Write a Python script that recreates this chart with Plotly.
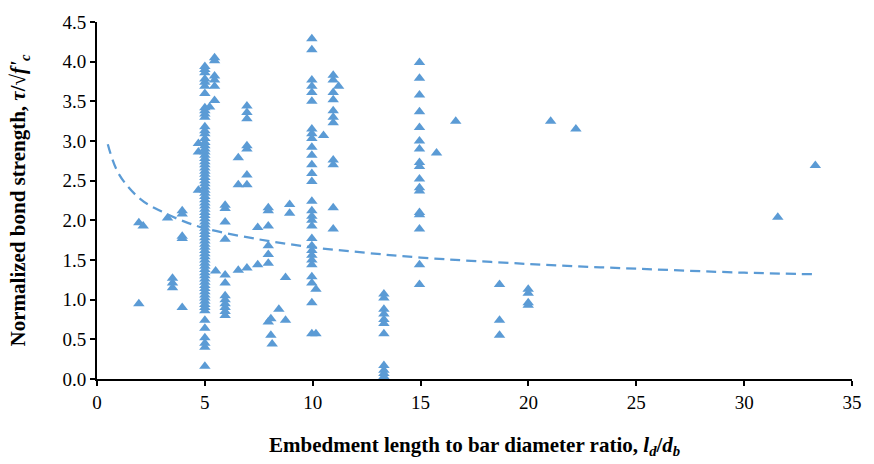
import plotly.graph_objects as go

# ---- data ----
x_vals = [
    1.94, 2.14, 1.94,
    3.27, 3.95, 3.95, 3.95, 3.95, 3.5, 3.5, 3.5, 3.95,
    4.7, 4.7, 4.7,
    # x = 5 column (top part)
    5, 5, 5, 5, 5, 5, 5, 5, 5, 5, 5, 5, 5, 5, 5,
    # x = 5 column (dense part)
    5, 5, 5, 5, 5, 5, 5, 5, 5, 5, 5, 5, 5, 5, 5, 5, 5, 5, 5, 5,
    5, 5, 5, 5, 5, 5, 5, 5, 5, 5, 5, 5, 5, 5, 5, 5, 5, 5, 5, 5,
    5, 5, 5, 5, 5, 5, 5, 5, 5, 5, 5, 5, 5, 5,
    # x = 5 column (low part)
    5, 5, 5, 5, 5, 5,
    5.45, 5.45, 5.45, 5.45, 5.45, 5.45, 5.22, 5.5,
    5.94, 5.94, 5.94, 5.94, 5.94, 5.94, 5.94, 5.94, 5.94, 5.94, 5.94, 5.94,
    6.55, 6.55, 6.55,
    6.95, 6.95, 6.95, 6.95, 6.95, 6.95, 6.95, 6.95,
    7.45, 7.45,
    7.94, 7.94, 7.94, 7.94, 7.94, 7.94, 7.94,
    8.06, 8.06, 8.12, 8.43, 8.74, 8.74, 8.93, 8.93,
    # x = 10 column
    9.96, 9.96, 9.96, 9.96, 9.96, 9.96, 9.96, 9.96, 9.96, 9.96,
    9.96, 9.96, 9.96, 9.96, 9.96, 9.96, 9.96, 9.96, 9.96, 9.96,
    9.96, 9.96, 9.96, 9.96, 9.96, 9.96, 9.96, 9.96, 9.96,
    10.15, 10.15, 10.5,
    10.95, 10.95, 10.95, 10.95, 10.95, 10.95, 10.95, 10.95, 10.95, 10.95, 10.95, 11.2,
    13.3, 13.3, 13.3, 13.3, 13.3, 13.3, 13.3, 13.3, 13.3, 13.3, 13.3,
    14.95, 14.95, 14.95, 14.95, 14.95, 14.95, 14.95, 14.95, 14.95,
    14.95, 14.95, 14.95, 14.95, 14.95, 14.95, 14.95, 14.95,
    15.74, 16.63, 18.66, 18.66, 18.66, 19.99, 19.99, 19.99, 19.99,
    21.03, 22.2, 31.56, 33.3,
]
y_vals = [
    1.97, 1.93, 0.95,
    2.03, 2.12, 2.08, 1.80, 1.77, 1.27, 1.21, 1.15, 0.90,
    2.97, 2.86, 2.38,
    3.94, 3.90, 3.86, 3.78, 3.74, 3.69, 3.60, 3.42, 3.38, 3.34, 3.30, 3.18, 3.13, 3.09, 3.03,
    2.98, 2.94, 2.90, 2.86, 2.82, 2.78, 2.74, 2.70, 2.66, 2.62, 2.58, 2.54, 2.50, 2.46, 2.42, 2.38, 2.34, 2.30, 2.26, 2.22,
    2.18, 2.14, 2.10, 2.06, 2.02, 1.98, 1.94, 1.90, 1.86, 1.82, 1.78, 1.74, 1.70, 1.66, 1.62, 1.58, 1.54, 1.50, 1.46, 1.42,
    1.38, 1.34, 1.30, 1.26, 1.22, 1.18, 1.14, 1.10, 1.06, 1.02, 0.98, 0.94, 0.90, 0.86,
    0.74, 0.64, 0.52, 0.45, 0.40, 0.16,
    4.05, 4.01, 3.82, 3.77, 3.69, 3.51, 3.43, 1.36,
    2.19, 2.15, 1.98, 1.76, 1.31, 1.21, 1.05, 1.00, 0.95, 0.90, 0.85, 0.80,
    2.79, 2.45, 1.37,
    3.44, 3.36, 3.28, 2.94, 2.90, 2.57, 2.45, 1.40,
    1.91, 1.44,
    2.16, 2.12, 1.93, 1.68, 1.57, 1.46, 0.72,
    0.76, 0.55, 0.44, 0.88, 1.28, 0.74, 2.20, 2.09,
    4.29, 4.15, 3.77, 3.69, 3.61, 3.50, 3.15, 3.09, 3.03, 2.92,
    2.82, 2.70, 2.59, 2.49, 2.24, 2.12, 2.05, 2.00, 1.93, 1.77,
    1.68, 1.62, 1.56, 1.50, 1.44, 1.29, 1.21, 0.96, 0.57,
    1.13, 0.57, 3.07,
    3.83, 3.77, 3.61, 3.52, 3.38, 3.30, 3.23, 2.76, 2.70, 2.16, 1.89, 3.69,
    1.07, 1.02, 0.88, 0.82, 0.75, 0.70, 0.57, 0.17, 0.11, 0.07, 0.03,
    3.99, 3.79, 3.58, 3.37, 3.17, 3.00, 2.90, 2.73, 2.68,
    2.52, 2.41, 2.37, 2.10, 2.07, 1.89, 1.44, 1.19,
    2.85, 3.25, 1.19, 0.74, 0.55, 1.13, 1.08, 0.96, 0.93,
    3.25, 3.15, 2.04, 2.69,
]

# trend line
trend_x = [0.5, 1, 2, 3, 4, 5, 7.5, 10, 12.5, 15, 20, 25, 30, 33.3]
trend_y = [2.96, 2.59, 2.27, 2.11, 1.99, 1.90, 1.76, 1.66, 1.59, 1.53, 1.45, 1.39, 1.34, 1.32]

x_ticks = [0, 5, 10, 15, 20, 25, 30, 35]
y_ticks = [0, 0.5, 1.0, 1.5, 2.0, 2.5, 3.0, 3.5, 4.0, 4.5]

BLUE = "#5B9BD5"
FONT = "Liberation Serif"

fig = go.Figure()
fig.add_trace(go.Scatter(
    x=x_vals, y=y_vals, mode="markers",
    marker=dict(symbol="triangle-up", size=10, color=BLUE, line=dict(width=0)),
    showlegend=False, hoverinfo="x+y",
))
fig.add_trace(go.Scatter(
    x=trend_x, y=trend_y, mode="lines",
    line=dict(color=BLUE, width=2.25, dash="10px,6px", shape="spline"),
    showlegend=False, hoverinfo="skip",
))

fig.update_layout(
    width=874, height=464,
    margin=dict(l=97, r=13, t=16, b=85),
    paper_bgcolor="white", plot_bgcolor="white",
    font=dict(family=FONT, size=19, color="black"),
    xaxis=dict(
        range=[0, 35], tickvals=x_ticks, showgrid=False, zeroline=False,
        showline=True, linecolor="black", linewidth=2,
        ticks="outside", ticklen=5, tickwidth=1.5, tickcolor="black",
        tickfont=dict(family=FONT, size=19),
    ),
    yaxis=dict(
        range=[0, 4.5], tickvals=y_ticks, tickformat=".1f", showgrid=False, zeroline=False,
        showline=True, linecolor="black", linewidth=2,
        ticks="outside", ticklen=5, tickwidth=1.5, tickcolor="black",
        tickfont=dict(family=FONT, size=19),
    ),
    annotations=[
        dict(
            text="<b>Embedment length to bar diameter ratio, <i>l</i><sub><i>d</i></sub>/<i>d</i><sub><i>b</i></sub></b>",
            xref="paper", yref="paper", x=0.5, y=-0.187,
            xanchor="center", yanchor="middle", showarrow=False,
            font=dict(family=FONT, size=21),
        ),
        dict(
            text="<b>Normalized bond strength, <i>τ</i>/√<i>f'</i><sub><i>c</i></sub></b>",
            xref="paper", yref="paper", x=-0.1034, y=0.5,
            xanchor="center", yanchor="middle", textangle=-90, showarrow=False,
            font=dict(family=FONT, size=21),
        ),
    ],
)

fig.write_html("out.html")
